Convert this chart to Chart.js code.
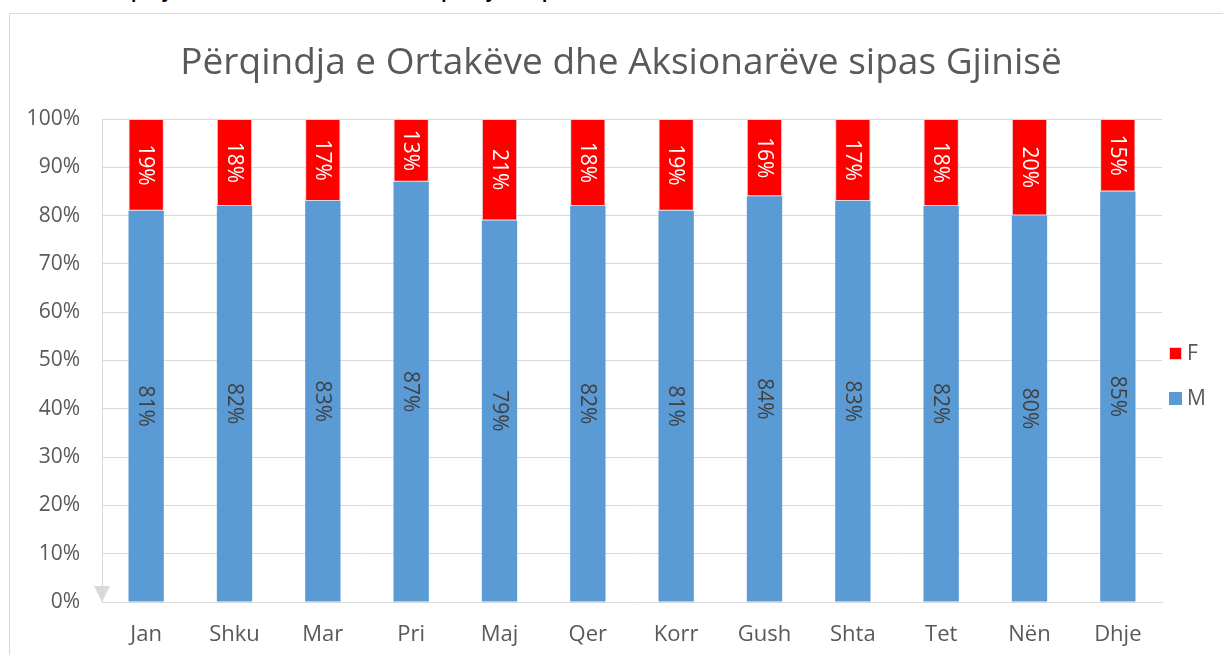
<!DOCTYPE html>
<html>
<head>
<meta charset="utf-8">
<script src="https://cdn.jsdelivr.net/npm/chart.js@4/dist/chart.umd.min.js"></script>
<style>
  html, body { margin: 0; padding: 0; background: #ffffff; overflow: hidden; }
  #caption { position: absolute; left: 10px; top: -19px; font-family: "Open Sans", "Liberation Sans", sans-serif; font-weight: bold; font-size: 17px; line-height: 22px; color: #000; white-space: nowrap; }
  #frame { position: absolute; left: 9px; top: 13px; width: 1300px; height: 700px; border: 1px solid #d9d9d9; background: #ffffff; }
  #wrap { position: absolute; left: 0; top: 0; width: 1223px; height: 655px; }
</style>
</head>
<body>
<div id="caption">Grafiku 4: Përqindja e Ortakëve dhe Aksionarëve sipas Gjinisë, për vitin 2021</div>
<div id="frame"></div>
<div id="wrap"><canvas id="c"></canvas></div>
<script>
const titleText = "Përqindja e Ortakëve dhe Aksionarëve sipas Gjinisë";
const months = ["Jan", "Shku", "Mar", "Pri", "Maj", "Qer", "Korr", "Gush", "Shta", "Tet", "Nën", "Dhje"];
const valuesM = [81, 82, 83, 87, 79, 82, 81, 84, 83, 82, 80, 85];
const valuesF = [19, 18, 17, 13, 21, 18, 19, 16, 17, 18, 20, 15];
const yTicks = [0, 10, 20, 30, 40, 50, 60, 70, 80, 90, 100];
const legendOrder = ["F", "M"];

const FONT = "'Open Sans', 'Liberation Sans', sans-serif";
const GREY_TXT = "#595959";
const GRID = "#d9d9d9";

const barLabels = {
  id: "barLabels",
  afterDatasetsDraw(chart) {
    const ctx = chart.ctx;
    chart.data.datasets.forEach((ds, di) => {
      const meta = chart.getDatasetMeta(di);
      if (meta.hidden) return;
      meta.data.forEach((el, i) => {
        const v = ds.data[i];
        const cy = (el.y + el.base) / 2;
        ctx.save();
        ctx.translate(el.x, cy);
        ctx.rotate(Math.PI / 2);
        ctx.font = "21px " + FONT;
        ctx.fillStyle = ds.labelColor;
        ctx.textAlign = "center";
        ctx.textBaseline = "middle";
        ctx.fillText(v + "%", 0, 1);
        ctx.restore();
      });
    });
  }
};

const axisArrow = {
  id: "axisArrow",
  afterDraw(chart) {
    const ctx = chart.ctx;
    const x = chart.scales.x.left;
    const y = chart.scales.y.getPixelForValue(0);
    ctx.save();
    ctx.fillStyle = GRID;
    ctx.beginPath();
    ctx.moveTo(x, y);
    ctx.lineTo(x - 8, y - 16);
    ctx.lineTo(x + 8, y - 16);
    ctx.closePath();
    ctx.fill();
    ctx.restore();
  }
};

const sideLegend = {
  id: "sideLegend",
  afterDraw(chart) {
    const ctx = chart.ctx;
    const ca = chart.chartArea;
    const mid = (ca.top + ca.bottom) / 2;
    const x0 = ca.right + 7;
    ctx.save();
    ctx.font = "21px " + FONT;
    ctx.textBaseline = "middle";
    ctx.textAlign = "left";
    legendOrder.forEach((name, k) => {
      const ds = chart.data.datasets.find(d => d.label === name);
      const cy = mid - 7 + k * 45;
      ctx.fillStyle = ds.backgroundColor;
      ctx.fillRect(x0, cy - 6.5, 13, 13);
      if (ds.borderWidth) {
        ctx.strokeStyle = ds.borderColor;
        ctx.lineWidth = 1;
        ctx.strokeRect(x0 + 0.5, cy - 6, 12, 12);
      }
      ctx.fillStyle = GREY_TXT;
      ctx.fillText(name, x0 + 18, cy + 1);
    });
    ctx.restore();
  }
};

new Chart(document.getElementById("c"), {
  type: "bar",
  data: {
    labels: months,
    datasets: [
      { label: "M", data: valuesM, backgroundColor: "#5b9bd5", borderWidth: 0, labelColor: "#404040" },
      { label: "F", data: valuesF, backgroundColor: "#ff0000", borderColor: "#d9d9d9", borderWidth: 1, borderSkipped: false, labelColor: "#ffffff" }
    ]
  },
  options: {
    responsive: true,
    maintainAspectRatio: false,
    animation: false,
    datasets: { bar: { barPercentage: 0.4, categoryPercentage: 1.0 } },
    layout: { padding: { left: 10, top: 41, right: -9, bottom: 0 } },
    scales: {
      x: {
        stacked: true,
        grid: { display: false, drawTicks: false },
        border: { display: true, color: GRID, width: 1 },
        ticks: { color: GREY_TXT, font: { size: 22, family: FONT }, padding: 20 },
        afterFit(s) { s.height = 53; }
      },
      y: {
        stacked: true,
        min: 0,
        max: 100,
        afterBuildTicks(s) { s.ticks = yTicks.map(v => ({ value: v })); },
        grid: { color: GRID, lineWidth: 1, drawTicks: false },
        border: { display: true, color: GRID, width: 1 },
        ticks: { color: GREY_TXT, font: { size: 21, family: FONT }, padding: 22, callback: v => v + "%" },
        afterFit(s) { s.width = 92; }
      },
      legendSpace: {
        type: "linear",
        position: "right",
        min: 0,
        max: 1,
        grid: { display: false, drawTicks: false },
        border: { display: false },
        ticks: { display: false },
        afterFit(s) { s.width = 70; }
      }
    },
    plugins: {
      title: {
        display: true,
        text: titleText,
        color: GREY_TXT,
        font: { size: 37, family: FONT, weight: "normal" },
        padding: { top: 0, bottom: 33.6 }
      },
      legend: { display: false },
      tooltip: { enabled: false }
    }
  },
  plugins: [barLabels, axisArrow, sideLegend]
});
</script>
</body>
</html>
